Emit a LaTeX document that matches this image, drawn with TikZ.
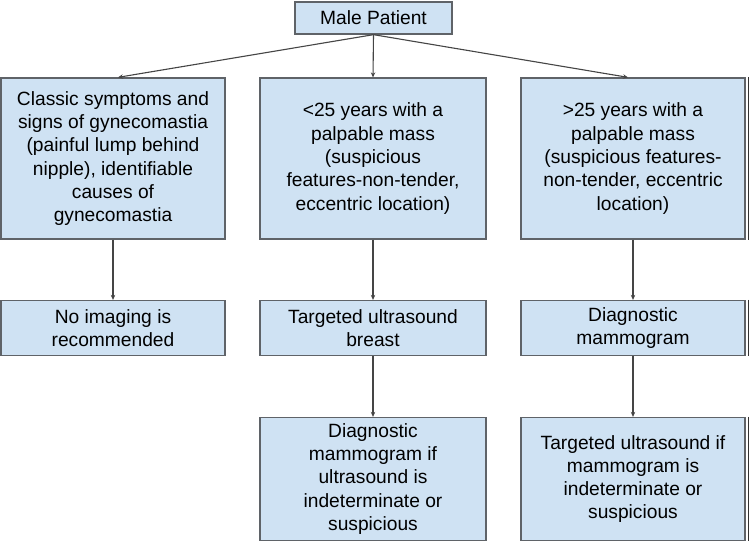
\documentclass[tikz,border=0pt]{standalone}
\usepackage{fontspec}
\setmainfont{Liberation Sans}
\usetikzlibrary{arrows.meta}
\definecolor{boxfill}{HTML}{CFE2F3}
\definecolor{boxline}{HTML}{5F6368}
\definecolor{arrline}{HTML}{454545}
\begin{document}
\begin{tikzpicture}[x=1pt,y=-1pt,
  box/.style={draw=boxline,line width=1.3pt,fill=boxfill,rectangle,align=center,
    inner sep=0pt,font=\fontsize{19.2}{23.3}\selectfont},
  conn/.style={draw=arrline,line width=1.1pt,-{Stealth[length=5pt,width=4.5pt]}}]
\useasboundingbox (0,0) rectangle (750,542);
\fill[white] (0,0) rectangle (750,542);
% top
\node[box,minimum width=157pt,minimum height=32pt] (top) at (373.5,18) {Male Patient};
% row 1
\node[box,minimum width=224pt,minimum height=161pt] (a1) at (113,158.5)
  {Classic symptoms and\\signs of gynecomastia\\(painful lump behind\\nipple), identifiable\\causes of\\gynecomastia};
\node[box,minimum width=226pt,minimum height=161pt] (b1) at (373,158.5)
  {<25 years with a\\palpable mass\\(suspicious\\features-non-tender,\\eccentric location)};
\node[box,minimum width=224pt,minimum height=161pt] (c1) at (633,158.5)
  {>25 years with a\\palpable mass\\(suspicious features-\\non-tender, eccentric\\location)};
% row 2
\node[box,minimum width=224pt,minimum height=55pt] (a2) at (113,328)
  {No imaging is\\recommended};
\node[box,minimum width=226pt,minimum height=55pt] (b2) at (373,328)
  {Targeted ultrasound\\breast};
\node[box,minimum width=224pt,minimum height=55pt] (c2) at (633,328)
  {Diagnostic\\mammogram};
% row 3
\node[box,minimum width=226pt,minimum height=123pt] (b3) at (373,479)
  {Diagnostic\\mammogram if\\ultrasound is\\indeterminate or\\suspicious};
\node[box,minimum width=224pt,minimum height=123pt] (c3) at (633,479)
  {Targeted ultrasound if\\mammogram is\\indeterminate or\\suspicious};
% right edge dark lines
\draw[black!80,line width=1.6pt] ([xshift=3pt]c1.north east) -- ([xshift=3pt]c1.south east);
\draw[black!80,line width=1.6pt] ([xshift=3pt]c2.north east) -- ([xshift=3pt]c2.south east);
\draw[black!80,line width=1.6pt] ([xshift=3pt]c3.north east) -- ([xshift=3pt]c3.south east);
% connectors
\draw[conn] (top.south) -- ([xshift=5pt]a1.north);
\draw[conn] (top.south) -- (b1.north);
\draw[conn] (top.south) -- ([xshift=-5pt]c1.north);
\draw[conn] (a1.south) -- (a2.north);
\draw[conn] (b1.south) -- (b2.north);
\draw[conn] (c1.south) -- (c2.north);
\draw[conn] (b2.south) -- (b3.north);
\draw[conn] (c2.south) -- (c3.north);
\end{tikzpicture}
\end{document}
